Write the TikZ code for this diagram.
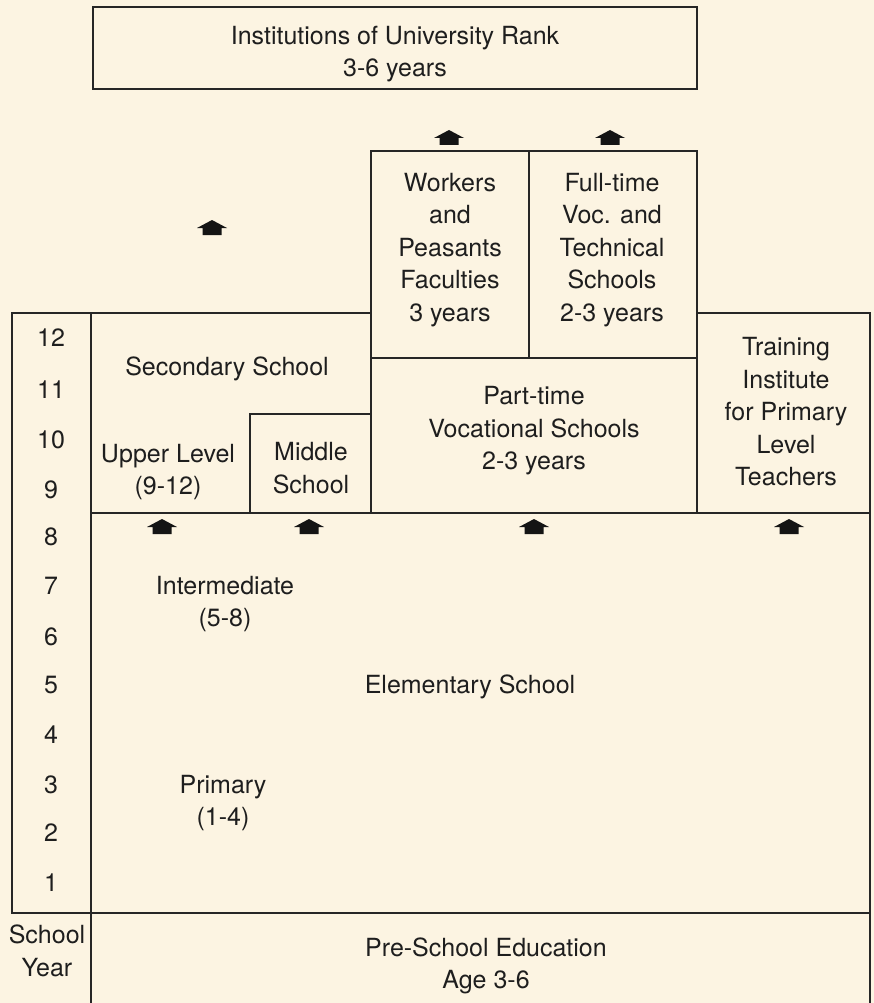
\documentclass[tikz,border=0pt]{standalone}
\usepackage{fontspec}
\setmainfont{TeX Gyre Heros}
\definecolor{bgc}{HTML}{FCF4E2}
\definecolor{linec}{HTML}{262626}
\definecolor{txtc}{HTML}{1E1E1E}
\definecolor{arrc}{HTML}{141414}
\begin{document}
\begin{tikzpicture}[x=1pt,y=-1pt,
  box/.style={draw=linec, line width=2pt},
  lbl/.style={align=center, font=\fontsize{25}{32.5}\selectfont, text=txtc, inner sep=0pt},
  yr/.style={font=\fontsize{25}{32.5}\selectfont, text=txtc, inner sep=0pt},
  uparrow/.pic={\fill[arrc] (-15,0.5) -- (0,-7.5) -- (15,0.5) -- (9.5,0.5) -- (9.5,7.5) -- (-9.5,7.5) -- (-9.5,0.5) -- cycle;}
]
\fill[bgc] (0,0) rectangle (874,1003);
\useasboundingbox (0,0) rectangle (874,1003);
% boxes
\draw[box] (93,7) rectangle (697,89);
\draw[box] (371,151) rectangle (529,358);
\draw[box] (529,151) rectangle (697,358);
\draw[box] (12,313) rectangle (91,913);
\draw[box] (91,313) rectangle (371,513);
\draw[box] (250,414) rectangle (371,513);
\draw[box] (371,358) rectangle (697,513);
\draw[box] (697,313) rectangle (870,513);
\draw[box] (91,513) rectangle (870,913);
\draw[box] (91,1003) -- (91,913) -- (870,913) -- (870,1003);
% labels
\node[lbl] (univ) at (395,54) {Institutions of University Rank\\3-6 years};
\node[lbl] (workers) at (450,250) {Workers\\and\\Peasants\\Faculties\\3 years};
\node[lbl] (fulltime) at (612,250) {Full-time\\Voc. and\\Technical\\Schools\\2-3 years};
\node[lbl] (secondary) at (227,369) {Secondary School};
\node[lbl] (upper) at (168,472) {Upper Level\\(9-12)};
\node[lbl] (middle) at (311,468) {Middle\\School};
\node[lbl] (parttime) at (534,431) {Part-time\\Vocational Schools\\2-3 years};
\node[lbl] (training) at (786,412) {Training\\Institute\\for Primary\\Level\\Teachers};
\node[lbl] (intermediate) at (225,604) {Intermediate\\(5-8)};
\node[lbl] (primary) at (223,803) {Primary\\(1-4)};
\node[lbl] (elementary) at (470,687) {Elementary School};
\node[lbl] (preschool) at (486,966) {Pre-School Education\\Age 3-6};
\node[lbl] (schoolyear) at (47,951) {School\\Year};
% year numbers
\node[yr] (y12) at (51,338) {12};
\node[yr] (y11) at (51,390) {11};
\node[yr] (y10) at (51,440) {10};
\node[yr] (y9) at (51,490) {9};
\node[yr] (y8) at (51,537) {8};
\node[yr] (y7) at (51,586) {7};
\node[yr] (y6) at (51,637) {6};
\node[yr] (y5) at (51,685) {5};
\node[yr] (y4) at (51,735) {4};
\node[yr] (y3) at (51,785) {3};
\node[yr] (y2) at (51,833) {2};
\node[yr] (y1) at (51,883) {1};
% arrows
\pic (a1) at (449,137.5) {uparrow};
\pic (a2) at (610,137.5) {uparrow};
\pic (a3) at (212,227.5) {uparrow};
\pic (a4) at (162,526.5) {uparrow};
\pic (a5) at (309,526.5) {uparrow};
\pic (a6) at (534,526.5) {uparrow};
\pic (a7) at (789,526.5) {uparrow};
\end{tikzpicture}
\end{document}
